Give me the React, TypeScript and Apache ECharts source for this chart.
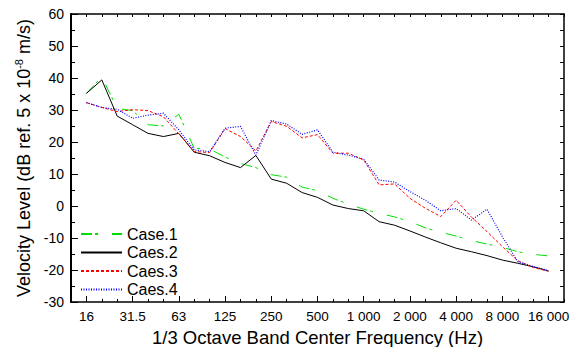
import React, { useEffect, useRef } from "react";
import * as echarts from "echarts";

const bands = [
  "16", "20", "25", "31.5", "40", "50", "63", "80", "100", "125", "160", "200",
  "250", "315", "400", "500", "630", "800", "1 000", "1 250", "1 600", "2 000",
  "2 500", "3 150", "4 000", "5 000", "6 300", "8 000", "10 000", "12 500", "16 000",
];

const case1 = [
  35.2, 40.3, 30.5, 29.8, 25.4, 25.0, 28.7, 18.0, 17.8, 15.3, 13.3, 12.0, 9.8, 9.0,
  5.9, 4.8, 2.4, 0.6, -1.0, -2.3, -3.4, -4.9, -6.8, -8.2, -9.4, -10.8, -11.9, -12.9,
  -14.3, -15.1, -15.6,
];
const case2 = [
  35.2, 39.4, 28.1, 25.4, 22.7, 21.7, 22.7, 16.8, 15.7, 13.6, 12.0, 15.8, 8.4, 7.1,
  4.2, 2.7, 0.3, -0.8, -1.5, -4.9, -6.0, -7.8, -9.7, -11.5, -13.2, -14.3, -15.5,
  -16.9, -17.9, -19.0, -20.3,
];
const case3 = [
  32.3, 30.8, 29.5, 30.1, 29.8, 27.9, 22.5, 17.0, 16.7, 24.2, 21.7, 17.2, 26.4, 24.9,
  21.3, 22.3, 16.5, 16.5, 14.4, 6.6, 6.9, 2.4, -0.7, -3.3, 1.8, -3.5, -8.0, -12.7,
  -17.1, -19.2, -20.4,
];
const case4 = [
  32.3, 30.8, 30.2, 27.4, 28.4, 29.0, 23.8, 17.5, 17.0, 24.3, 24.9, 15.9, 26.7, 25.6,
  22.4, 23.8, 16.8, 15.9, 14.6, 8.1, 7.5, 4.5, 1.8, -1.5, -0.8, -4.4, -1.0, -9.6,
  -17.4, -18.9, -20.2,
];

const seriesNames = ["Case.1", "Caes.2", "Caes.3", "Caes.4"];
const xTitle = "1/3 Octave Band Center Frequency (Hz)";
const yTitle = "Velocity Level (dB ref. 5 x 10{sup|-8} m/s)";

export default function App() {
  const ref = useRef<HTMLDivElement>(null);
  useEffect(() => {
    const chart = echarts.init(ref.current!, null, { renderer: "svg" });
    const font = "'Liberation Sans', Arial, sans-serif";
    const cats = ["", ...bands, ""];
    const toData = (arr: number[]) => arr.map((v, i) => [i + 1, v]);
    const isMajor = (idx: number) =>
      idx >= 1 && idx <= bands.length && (idx - 1) % 3 === 0;
    const axisLineStyle = { color: "#000", width: 1.5 };

    chart.setOption({
      animation: false,
      grid: { left: 71, right: 18, top: 14, bottom: 45, containLabel: false, outerBoundsMode: "none" },
      xAxis: [
        {
          type: "category",
          data: cats,
          boundaryGap: false,
          position: "bottom",
          axisLine: { onZero: false, lineStyle: axisLineStyle },
          axisTick: { inside: true, length: 3, interval: 0, lineStyle: { color: "#000" } },
          axisLabel: {
            interval: (i: number) => isMajor(i),
            color: "#000",
            fontSize: 13.5,
            fontFamily: font,
            margin: 7,
          },
          splitLine: { show: false },
          name: xTitle,
          nameLocation: "middle",
          nameGap: 24,
          nameTextStyle: { color: "#000", fontSize: 18.5, fontFamily: font },
        },
        {
          type: "category",
          data: cats,
          boundaryGap: false,
          position: "bottom",
          axisLine: { show: false, onZero: false },
          axisTick: {
            inside: true,
            length: 6,
            interval: (i: number) => isMajor(i),
            lineStyle: { color: "#000" },
          },
          axisLabel: { show: false },
          splitLine: { show: false },
        },
        {
          type: "category",
          data: cats,
          boundaryGap: false,
          position: "top",
          axisLine: { onZero: false, lineStyle: axisLineStyle },
          axisTick: { inside: true, length: 3, interval: 0, lineStyle: { color: "#000" } },
          axisLabel: { show: false },
          splitLine: { show: false },
        },
      ],
      yAxis: [
        {
          type: "value",
          min: -30,
          max: 60,
          interval: 10,
          position: "left",
          axisLine: { show: true, onZero: false, lineStyle: { color: "#000", width: 2 } },
          axisTick: { show: true, inside: true, length: 7, lineStyle: { color: "#000" } },
          minorTick: { show: true, splitNumber: 2, length: 4, lineStyle: { color: "#000" } },
          axisLabel: { color: "#000", fontSize: 14, fontFamily: font, margin: 7 },
          splitLine: { show: false },
          name: yTitle,
          nameLocation: "middle",
          nameGap: 37,
          nameTextStyle: {
            color: "#000",
            fontSize: 18,
            fontFamily: font,
            rich: {
              sup: { fontSize: 11, fontFamily: font, color: "#000", verticalAlign: "top", padding: [0, 0, 9, 0] },
            },
          },
        },
        {
          type: "value",
          min: -30,
          max: 60,
          interval: 5,
          position: "right",
          axisLine: { show: true, onZero: false, lineStyle: axisLineStyle },
          axisTick: { show: true, inside: true, length: 4, lineStyle: { color: "#000" } },
          axisLabel: { show: false },
          splitLine: { show: false },
        },
      ],
      legend: {
        orient: "vertical",
        left: 80,
        top: 226,
        padding: 0,
        itemWidth: 41,
        itemHeight: 14,
        itemGap: 2.5,
        itemStyle: { opacity: 0 },
        textStyle: { color: "#000", fontSize: 16, lineHeight: 14, fontFamily: font },
        data: seriesNames,
      },
      series: [
        {
          name: seriesNames[0],
          type: "line",
          data: toData(case1),
          symbol: "none",
          lineStyle: { color: "#00e000", width: 1, type: [11, 3, 3, 14] },
          itemStyle: { color: "#00e000" },
        },
        {
          name: seriesNames[1],
          type: "line",
          data: toData(case2),
          symbol: "none",
          lineStyle: { color: "#000000", width: 1 },
          itemStyle: { color: "#000000" },
        },
        {
          name: seriesNames[2],
          type: "line",
          data: toData(case3),
          symbol: "none",
          lineStyle: { color: "#ff0000", width: 1, type: [3, 2] },
          itemStyle: { color: "#ff0000" },
        },
        {
          name: seriesNames[3],
          type: "line",
          data: toData(case4),
          symbol: "none",
          lineStyle: { color: "#0000ff", width: 1.2, type: [1, 1.5] },
          itemStyle: { color: "#0000ff" },
        },
      ],
    });
    return () => chart.dispose();
  }, []);
  return (
    <div
      ref={ref}
      style={{ position: "fixed", left: 0, top: 0, width: 582, height: 347, background: "#fff" }}
    />
  );
}
